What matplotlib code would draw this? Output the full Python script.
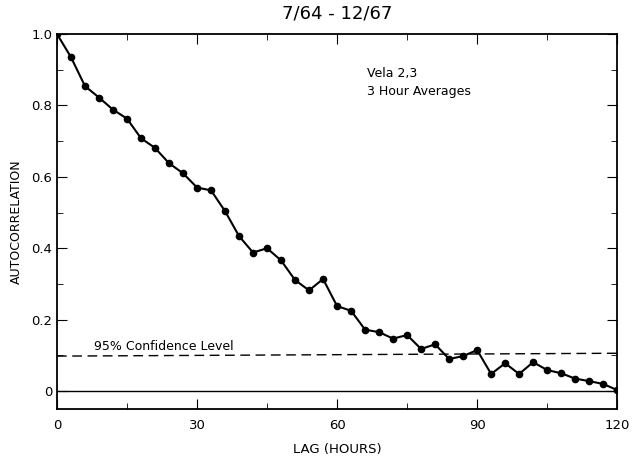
import matplotlib
matplotlib.use("Agg")
import matplotlib.pyplot as plt
from matplotlib.ticker import MultipleLocator

# lag en horas (promedios de 3 horas)
lags = [0, 3, 6, 9, 12, 15, 18, 21, 24, 27, 30, 33, 36, 39, 42, 45, 48, 51, 54, 57,
        60, 63, 66, 69, 72, 75, 78, 81, 84, 87, 90, 93, 96, 99, 102, 105, 108, 111,
        114, 117, 120]
autocorr = [1.0, 0.935, 0.854, 0.822, 0.788, 0.763, 0.708, 0.681, 0.638, 0.610,
            0.570, 0.562, 0.504, 0.434, 0.388, 0.400, 0.366, 0.311, 0.282, 0.314,
            0.238, 0.225, 0.172, 0.165, 0.147, 0.157, 0.118, 0.131, 0.090, 0.098,
            0.115, 0.048, 0.078, 0.048, 0.081, 0.059, 0.050, 0.035, 0.028, 0.020,
            0.003]
conf_x = [0, 120]
conf_y = [0.098, 0.106]

plt.rcParams['font.family'] = ['DejaVu Sans']

fig = plt.figure(figsize=(6.33, 4.59), dpi=100)
ax = fig.add_axes([0.09, 0.109, 0.885, 0.817])

ax.plot(lags, autocorr, color='k', linewidth=1.5, marker='o', markersize=4.5, zorder=3)
ax.plot(conf_x, conf_y, color='k', linewidth=1.0, linestyle=(0, (7, 4)))
ax.axhline(0, color='k', linewidth=1.0)

ax.set_xlim(0, 120)
ax.set_ylim(-0.05, 1.0)
ax.xaxis.set_major_locator(MultipleLocator(30))
ax.xaxis.set_minor_locator(MultipleLocator(15))
ax.set_yticks([0, 0.2, 0.4, 0.6, 0.8, 1.0])
ax.set_yticklabels(['0', '0.2', '0.4', '0.6', '0.8', '1.0'])
ax.yaxis.set_minor_locator(MultipleLocator(0.1))
ax.tick_params(which='both', direction='in', top=True, right=True, labelsize=9.5)
ax.tick_params(axis='x', which='major', pad=7)
ax.tick_params(which='major', length=7)
ax.tick_params(which='minor', length=4)
for s in ax.spines.values():
    s.set_linewidth(1.3)

ax.set_xlabel("LAG (HOURS)", fontsize=9.5, labelpad=8)
ax.set_ylabel("AUTOCORRELATION", fontsize=9, labelpad=6)
ax.set_title("7/64 - 12/67", fontsize=13, pad=11)

ax.text(0.553, 0.885, "Vela 2,3", transform=ax.transAxes, fontsize=9)
ax.text(0.553, 0.838, "3 Hour Averages", transform=ax.transAxes, fontsize=9)
ax.text(8.0, 0.115, "95% Confidence Level", fontsize=9)

plt.savefig("out.png", dpi=100)
